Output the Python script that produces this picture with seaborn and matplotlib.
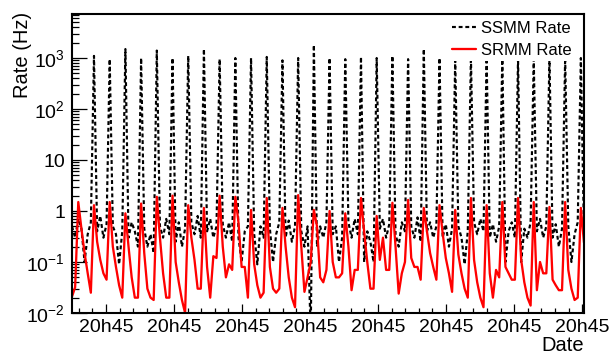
import matplotlib
matplotlib.use("Agg")
import matplotlib.pyplot as plt
import numpy as np
import pandas as pd
import seaborn as sns
from matplotlib.ticker import FixedLocator, LogLocator, FuncFormatter, NullFormatter

# Data (one sample every ~3 px, spikes once per cycle)
ssmm_rate = [
    0.5, 0.3, 0.7, 0.45, 0.1, 0.35, 0.6,
    1100, 0.4, 0.8, 0.3, 0.55,
    950, 0.5, 0.35, 0.09, 0.4,
    1500, 0.3, 0.6, 0.4, 0.2,
    1000, 0.45, 0.2, 0.35, 0.15,
    1400, 0.5, 0.3, 0.7, 0.35,
    1000, 0.25, 0.6, 0.2, 0.45,
    1100, 0.6, 0.35, 0.8, 0.3,
    1500, 0.4, 0.7, 0.3, 0.5,
    950, 0.55, 0.3, 0.6, 0.25,
    1000, 0.3, 0.1, 0.4, 0.5,
    1000, 0.35, 0.09, 0.5, 0.3,
    1050, 0.45, 0.1, 0.35, 0.6,
    900, 0.3, 0.65, 0.25, 0.5,
    1000, 0.4, 0.2, 0.5, 0.004,
    1800, 0.2, 0.5, 0.3, 0.6,
    1000, 0.35, 0.5, 0.1, 0.3,
    950, 0.6, 0.3, 0.7, 0.35,
    1050, 0.1, 0.4, 0.25, 0.1,
    1000, 0.45, 0.7, 0.3, 0.55,
    1100, 0.35, 0.2, 0.6, 0.4,
    950, 0.5, 0.3, 0.75, 0.25,
    1500, 0.4, 0.6, 0.3, 0.5,
    1000, 0.3, 0.55, 0.2, 0.45,
    900, 0.5, 0.3, 0.09, 0.4,
    1050, 0.6, 0.35, 0.7, 0.4,
    1000, 0.3, 0.55, 0.25, 0.5,
    1100, 0.1, 0.4, 0.6, 0.3,
    1000, 0.1, 0.45, 0.3, 0.6,
    950, 0.4, 0.7, 0.3, 0.5,
    1050, 0.3, 0.55, 0.2, 0.45,
    1000, 0.5, 0.1, 0.35, 0.6,
    1000, 0.35,
]

srmm_rate = [
    0.021, 0.032,
    1.5, 0.45, 0.15, 0.06, 0.025,
    1.3, 0.25, 0.11, 0.06, 0.045,
    1.5, 0.2, 0.08, 0.035, 0.02,
    0.9, 0.2, 0.05, 0.02, 0.02,
    1.4, 0.15, 0.03, 0.02, 0.018,
    1.9, 0.3, 0.06, 0.02, 0.02,
    2.0, 0.1, 0.04, 0.018, 0.01,
    1.3, 0.3, 0.11, 0.03, 0.03,
    1.15, 0.08, 0.02, 0.13, 0.12,
    2.0, 0.2, 0.05, 0.09, 0.07,
    1.9, 0.6, 0.08, 0.08, 0.02,
    1.05, 0.09, 0.035, 0.02, 0.025,
    1.8, 0.08, 0.03, 0.025, 0.03,
    1.15, 0.2, 0.05, 0.02, 0.013,
    2.05, 0.2, 0.026, 0.05, 0.1,
    1.05, 0.5, 0.05, 0.04, 0.07,
    1.0, 0.1, 0.05, 0.05, 0.06,
    0.9, 0.2, 0.028, 0.07, 0.07,
    1.8, 0.4, 0.1, 0.03, 0.03,
    0.8, 0.11, 0.3, 0.07, 0.07,
    1.45, 0.2, 0.024, 0.06, 0.1,
    1.65, 0.12, 0.08, 0.08, 0.045,
    1.15, 0.4, 0.15, 0.08, 0.045,
    1.3, 0.37, 0.12, 0.06, 0.026,
    1.05, 0.14, 0.06, 0.03, 0.02,
    1.8, 0.11, 0.04, 0.02, 0.013,
    1.3, 0.06, 0.02, 0.07, 0.05,
    1.5, 0.08, 0.06, 0.045, 0.045,
    1.8, 0.11, 0.04, 0.02, 0.014,
    1.5, 0.028, 0.1, 0.06, 0.06,
    1.2, 0.045, 0.035, 0.028, 0.028,
    1.5, 0.07, 0.03, 0.018, 0.02,
    1.15, 0.24,
]

tick_label = "20h45"
y_labels = {0.01: "$10^{-2}$", 0.1: "$10^{-1}$", 1: "1", 10: "10",
            100: "$10^{2}$", 1000: "$10^{3}$"}

df = pd.DataFrame({"sample": np.arange(len(srmm_rate)),
                   "ssmm": ssmm_rate, "srmm": srmm_rate})

sns.set_theme(style="ticks")
plt.rcParams["font.family"] = ["Liberation Sans", "DejaVu Sans"]
plt.rcParams["mathtext.fontset"] = "custom"
plt.rcParams["mathtext.rm"] = "Liberation Sans"
plt.rcParams["mathtext.it"] = "Liberation Sans:italic"
plt.rcParams["text.color"] = "black"

fig = plt.figure(figsize=(6.09, 3.56), dpi=100)
ax = fig.add_axes([72/609, 1 - 313/356, 512/609, 299/356])

sns.lineplot(data=df, x="sample", y="ssmm", ax=ax, color="black",
             linewidth=1.55, linestyle=(0, (1.8, 1.3)), label="SSMM Rate")
sns.lineplot(data=df, x="sample", y="srmm", ax=ax, color="#ff0000",
             linewidth=1.65, label="SRMM Rate")

ax.set_yscale("log")
ax.set_xlim(0, 163)
ax.set_ylim(0.01, 10**3.863)

# x ticks: a labelled tick every ~21.7 samples, 5 subdivisions
major_x = 10.8 + 21.66 * np.arange(8)
minor_x = 10.8 - 2 * 4.332 + 4.332 * np.arange(40)
minor_x = minor_x[(minor_x >= 0) & (minor_x <= 163)]
ax.xaxis.set_major_locator(FixedLocator(major_x))
ax.xaxis.set_minor_locator(FixedLocator(minor_x))
ax.set_xticklabels([tick_label] * len(major_x))

ax.yaxis.set_major_locator(FixedLocator(list(y_labels.keys())))
ax.yaxis.set_major_formatter(FuncFormatter(lambda v, p: y_labels.get(round(v, 4), "")))
ax.yaxis.set_minor_locator(LogLocator(base=10, subs=range(2, 10), numticks=20))
ax.yaxis.set_minor_formatter(NullFormatter())

ax.tick_params(axis="both", which="both", direction="in", top=False, right=False,
               width=0.9, colors="black", labelsize=14)
ax.tick_params(axis="y", which="major", length=10.8, pad=5)
ax.tick_params(axis="y", which="minor", length=5)
ax.tick_params(axis="x", which="major", length=6.5, pad=4)
ax.tick_params(axis="x", which="minor", length=3.6)

for s in ax.spines.values():
    s.set_linewidth(1.5)
    s.set_color("black")

ax.set_xlabel("")
ax.set_ylabel("")
fig.text(22/609, 1 - 12/356, "Rate (Hz)", rotation=90, ha="center", va="top",
         fontsize=14.5, color="black")
fig.text(584/609, 1 - 336/356, "Date", ha="right", va="top", fontsize=14.5,
         color="black")

leg = ax.legend(loc="upper right", bbox_to_anchor=(1 - 7/512, 1 - 2/299), fontsize=12,
                frameon=True, fancybox=False, edgecolor="none", facecolor="white",
                framealpha=1, borderaxespad=0.1, borderpad=0.2, handlelength=1.4,
                handletextpad=0.35, labelspacing=0.4)
for t in leg.get_texts():
    t.set_color("black")

fig.savefig("out.png", dpi=100)
